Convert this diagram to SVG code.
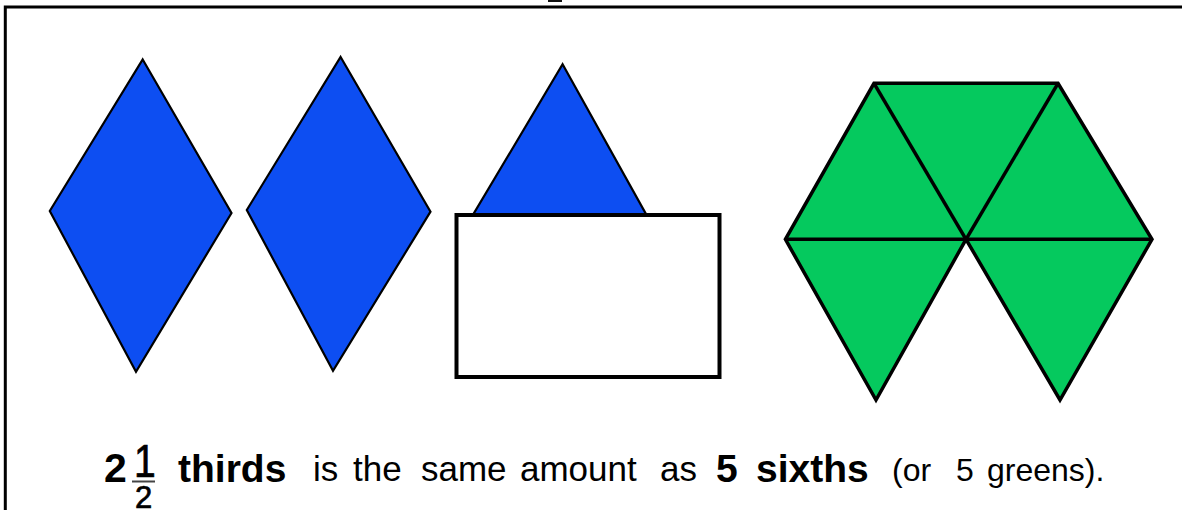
<svg xmlns="http://www.w3.org/2000/svg" width="1182" height="510" viewBox="0 0 1182 510">
  <style>
    .blue { fill: #0D4EF2; stroke: #000; stroke-width: 2.2; stroke-linejoin: miter; }
    .green { fill: #05C95E; stroke: #000; stroke-width: 3.5; stroke-linejoin: miter; }
    .line { stroke: #000; stroke-width: 3.5; fill: none; }
    .box { fill: #fff; stroke: #000; stroke-width: 4; }
    .b { font-family: "Liberation Sans", Arial, sans-serif; font-weight: bold; fill: #000; }
    .r { font-family: "Liberation Sans", Arial, sans-serif; font-weight: normal; fill: #000; }
    .f { font-family: "Liberation Sans", Arial, sans-serif; font-weight: normal; fill: #000; stroke: #000; stroke-width: 0.7; }
  </style>
  <rect width="1182" height="510" fill="#fff"/>
  <g id="frame">
    <path d="M5.3,510 V7 H1182" fill="none" stroke="#000" stroke-width="3"/>
    <rect x="548" y="0" width="14" height="2" fill="#111"/>
  </g>
  <g id="diamond1">
    <polygon class="blue" points="142.7,59.5 231.5,213 136,371.7 49.8,211"/>
  </g>
  <g id="diamond2">
    <polygon class="blue" points="340.6,57 430.5,211.7 333,370.7 246.8,210"/>
  </g>
  <g id="half-diamond">
    <polygon class="blue" points="562.6,64.3 646.5,215 472.9,215"/>
    <rect class="box" x="456.5" y="215" width="263" height="162"/>
  </g>
  <g id="green-sixths">
    <polygon class="green" points="874,83.3 1058,83.3 1152,239.3 1060,400 966,239.3 876,400 785.4,239.3"/>
    <line class="line" x1="874" y1="83.3" x2="966" y2="239.3"/>
    <line class="line" x1="1058" y1="83.3" x2="966" y2="239.3"/>
    <line class="line" x1="785.4" y1="239.3" x2="1152" y2="239.3"/>
  </g>
  <g id="caption">
    <text class="b" x="104" y="482" font-size="41">2</text>
    <text class="f" x="145" y="477" font-size="46" text-anchor="middle" transform="translate(145 0) scale(0.85 1) translate(-145 0)">1</text>
    <line x1="132" y1="481.5" x2="155" y2="481.5" stroke="#444" stroke-width="2"/>
    <text class="f" x="143.5" y="508" font-size="31" text-anchor="middle">2</text>
    <text class="b" x="178" y="482" font-size="39">thirds</text>
    <text class="r" x="313" y="481" font-size="35">is</text>
    <text class="r" x="353" y="481" font-size="35">the</text>
    <text class="r" x="421" y="481" font-size="35">same</text>
    <text class="r" x="520" y="481" font-size="35">amount</text>
    <text class="r" x="660" y="481" font-size="35">as</text>
    <text class="b" x="716" y="482" font-size="39">5</text>
    <text class="b" x="756" y="482" font-size="39">sixths</text>
    <text class="r" x="892" y="481" font-size="32">(or</text>
    <text class="r" x="956" y="481" font-size="32">5</text>
    <text class="r" x="987" y="481" font-size="32">greens).</text>
  </g>
</svg>
